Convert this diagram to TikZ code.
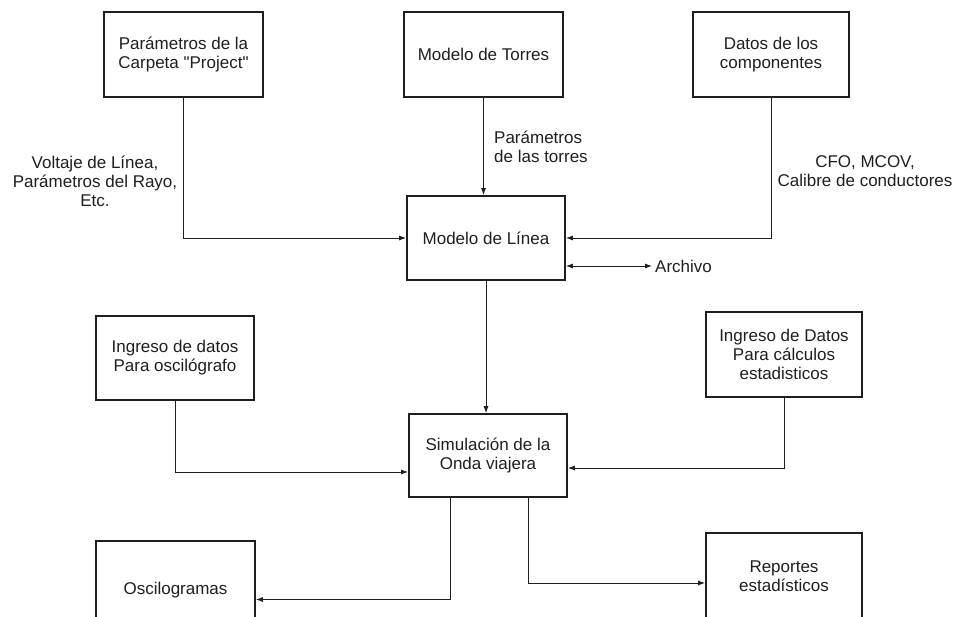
\documentclass[tikz,border=0pt]{standalone}
\usepackage{fontspec}
\setmainfont{Liberation Sans}[Ligatures=TeXOff]
\usetikzlibrary{arrows.meta,calc}
\begin{document}
\begin{tikzpicture}[x=1pt,y=-1pt,
  txt/.style={font=\fontsize{17}{19}\selectfont, text=black!88},
  blk/.style={txt, draw=black!88, line width=1.7pt, inner sep=0pt, align=center},
  lbl/.style={txt, inner sep=0pt},
  conn/.style={draw=black!88, line width=0.9pt},
  arr/.style={conn, -{Latex[length=7pt,width=5pt]}},
  darr/.style={conn, {Latex[length=7pt,width=5pt]}-{Latex[length=7pt,width=5pt]}}]
\useasboundingbox (0,0) rectangle (956,617);
\fill[white] (0,0) rectangle (956,617);
\clip (0,0) rectangle (956,617);

% top row
\node[blk, minimum width=159pt, minimum height=85pt] (proj) at (183.5,54.5) {Parámetros de la\\Carpeta "Project"};
\node[blk, minimum width=159pt, minimum height=85pt] (torres) at (483.5,54.5) {Modelo de Torres};
\node[blk, minimum width=156pt, minimum height=85pt] (datos) at (771,54.5) {Datos de los\\componentes};

% middle
\node[blk, minimum width=158pt, minimum height=84pt] (ml) at (486,238) {Modelo de Línea};
\node[blk, minimum width=158pt, minimum height=84pt] (oi) at (175,358) {Ingreso de datos\\Para oscilógrafo};
\node[blk, minimum width=156pt, minimum height=85pt] (si) at (784,354.5) {Ingreso de Datos\\Para cálculos\\estadisticos};
\node[blk, minimum width=158pt, minimum height=83pt] (sim) at (488,455.5) {Simulación de la\\Onda viajera};

% bottom
\node[blk, minimum width=159pt, minimum height=98pt] (osc) at (175.5,590) {Oscilogramas};
\node[blk, minimum width=156pt, minimum height=87pt] (rep) at (784,576.5) {Reportes\\estadísticos};

% labels
\node[lbl, align=center] (l1) at (95,181) {Voltaje de Línea,\\Parámetros del Rayo,\\Etc.};
\node[lbl, align=left, anchor=west] (l2) at (494,147) {Parámetros\\de las torres};
\node[lbl, align=center] (l3) at (865,171.5) {CFO, MCOV,\\Calibre de conductores};
\node[lbl, anchor=west] (arch) at (655,266) {Archivo};

% connectors
\draw[arr] (proj.south) |- (ml.west);
\draw[arr] (torres.south) -- (torres.south |- ml.north);
\draw[arr] (datos.south) |- (ml.east);
\draw[darr] (ml.east |- arch.west) -- ([xshift=-3pt]arch.west);
\draw[arr] (ml.south) -- (ml.south |- sim.north);
\draw[arr] (oi.south) |- ([yshift=-16.5pt]sim.west);
\draw[arr] (si.south) |- ([yshift=-12.5pt]sim.east);
\draw[arr] ([xshift=-38pt]sim.south) |- ([yshift=-9.5pt]osc.east);
\draw[arr] ([xshift=40pt]sim.south) |- ([yshift=-6.5pt]rep.west);
\end{tikzpicture}
\end{document}
